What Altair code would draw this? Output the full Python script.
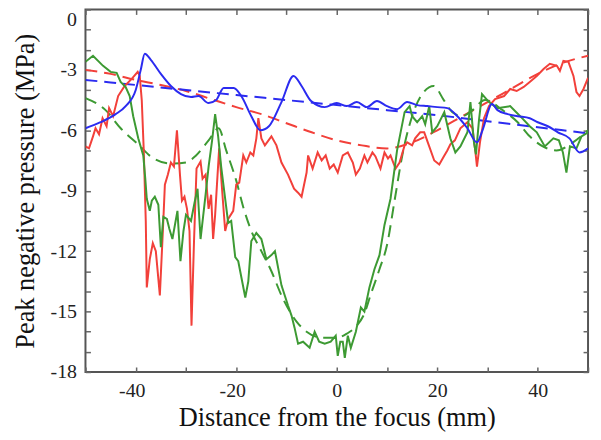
import altair as alt
import pandas as pd

# ---------------- data ----------------
red_x = [-50.0, -49.3, -48.5, -48.0, -47.3, -46.6, -45.8, -45.3, -44.5, -43.5, -42.2, -40.8, -39.6, -39.2,
         -38.8, -38.4, -38.0, -37.8, -37.2, -36.6, -36.0, -35.2, -34.6, -34.2, -33.6, -33.0, -32.4, -31.8,
         -31.2, -30.8, -30.3, -29.8, -29.3, -28.9, -28.4, -27.9, -27.1, -26.7, -26.1, -25.5, -25.0, -24.6,
         -24.2, -23.4, -22.8, -22.2, -21.6, -20.6, -20.0, -19.4, -18.6, -18.0, -17.2, -16.6, -16.0, -15.6,
         -15.0, -14.3, -13.0, -12.0, -11.0, -9.7, -8.5, -7.7, -7.0, -6.0, -5.7, -4.8, -3.8, -3.0, -2.2,
         -1.4, -0.6, 0.2, 1.2, 2.2, 3.2, 3.8, 4.6, 5.5, 6.1, 7.1, 7.7, 8.7, 9.5, 10.2, 10.7, 11.7, 12.5,
         13.5, 14.0, 15.0, 15.6, 16.6, 17.4, 18.4, 19.4, 20.4, 21.3, 22.0, 22.6, 23.5, 24.6, 26.0, 27.0,
         27.6, 27.9, 28.5, 29.3, 30.3, 31.5, 33.3, 34.5, 35.8, 37.2, 38.4, 39.8, 41.2, 42.4, 43.8, 44.4,
         45.1, 46.1, 47.1, 47.7, 48.3, 49.1, 50.0]
red_y = [-6.8, -6.9, -6.3, -5.9, -6.2, -5.4, -5.8, -4.9, -5.3, -4.3, -3.8, -3.45, -3.1, -3.3,
         -4.5, -7.0, -10.5, -13.8, -12.4, -11.6, -12.0, -14.2, -11.0, -8.7, -8.2, -7.6, -7.8, -6.0,
         -8.2, -9.5, -9.3, -9.9, -11.0, -15.7, -11.5, -7.9, -7.55, -8.4, -8.2, -9.9, -9.2, -11.4,
         -10.2, -6.9, -9.0, -11.0, -10.4, -10.0, -8.7, -8.6, -7.25, -7.6, -7.1, -7.25, -6.4, -5.4,
         -6.4, -6.75, -6.3, -6.75, -7.6, -8.2, -8.9, -9.1, -9.3, -8.1, -7.25, -7.9, -7.1, -7.5, -7.25,
         -7.9, -7.7, -8.1, -7.25, -7.1, -7.6, -8.2, -7.9, -7.25, -7.6, -7.1, -7.3, -7.9, -7.1, -7.4,
         -7.25, -7.9, -7.6, -6.75, -6.6, -6.75, -6.4, -6.1, -6.1, -6.8, -7.5, -7.7, -7.3, -7.0, -6.7,
         -6.5, -5.9, -5.6, -5.9, -7.1, -7.8, -6.6, -5.4, -4.8, -4.45, -4.3, -3.95, -4.05, -3.85, -3.6,
         -3.3, -2.95, -2.7, -2.8, -3.05, -2.55, -2.6, -3.3, -4.1, -4.3, -3.95, -3.4]

red_fit_x = [-50, -45, -40, -35, -30, -25, -20, -15, -10, -5, 0, 5, 10, 15, 20, 25, 30, 35, 40, 45, 50]
red_fit_y = [-3.0, -3.2, -3.5, -3.75, -4.05, -4.45, -4.85, -5.2, -5.65, -6.1, -6.5, -6.75, -6.9, -6.6,
             -6.0, -5.3, -4.6, -3.9, -3.2, -2.65, -2.3]

green_x = [-50.0, -48.5, -46.5, -45.0, -43.8, -43.0, -42.0, -41.2, -40.5, -39.5, -38.5, -38.1, -37.8,
           -37.2, -36.8, -36.2, -35.5, -35.0, -34.5, -33.8, -33.3, -32.7, -31.7, -31.1, -30.5, -30.0,
           -29.0, -28.3, -27.7, -27.1, -26.1, -25.5, -24.8, -24.2, -23.6, -23.0, -22.2, -21.6, -21.0,
           -20.2, -19.6, -18.2, -17.6, -17.0, -16.0, -15.0, -14.0, -13.0, -12.3, -11.0, -9.7, -9.0, -8.4,
           -7.7, -6.7, -5.4, -4.4, -3.5, -2.4, -1.2, -0.2, 0.2, 0.7, 1.2, 1.6, 2.2, 2.8, 3.8, 4.8, 5.5,
           6.5, 7.5, 8.5, 9.5, 10.7, 12.0, 13.5, 14.5, 15.0, 16.0, 17.0, 17.6, 18.4, 19.0, 20.0, 21.4,
           22.6, 23.6, 24.6, 26.0, 26.6, 27.3, 27.7, 28.3, 28.9, 30.3, 31.9, 34.5, 36.5, 38.4, 39.8, 41.4,
           43.1, 44.2, 45.0, 45.7, 46.4, 47.7, 48.7, 50.0]
green_y = [-2.6, -2.3, -2.8, -3.1, -3.15, -3.6, -3.85, -4.3, -5.3, -6.4, -7.25, -8.4, -9.4,
           -10.0, -9.5, -9.3, -9.7, -11.8, -10.3, -10.4, -10.9, -11.4, -10.0, -12.5, -11.0, -10.2,
           -10.5, -9.6, -8.9, -11.4, -9.2, -7.8, -6.5, -5.2, -6.3, -7.8, -9.4, -10.6, -10.5,
           -12.3, -12.5, -14.3, -13.5, -11.5, -11.1, -11.4, -12.4, -12.2, -12.0, -13.7, -14.7, -15.2, -15.8,
           -16.6, -16.5, -16.8, -16.0, -16.5, -16.6, -16.5, -16.2, -17.2, -16.5, -16.5, -17.3, -16.2, -16.8,
           -16.0, -14.8, -15.0, -13.8, -12.9, -12.2, -10.7, -9.4, -7.0, -5.1, -4.8, -5.3, -5.6, -5.3,
           -5.7, -4.8, -6.1, -5.8, -5.1, -6.4, -7.1, -6.8, -6.1, -4.6, -6.6, -7.2, -5.5, -4.2, -4.6,
           -4.9, -4.8, -5.3, -5.8, -6.1, -6.8, -6.4, -6.5, -7.1, -8.1, -6.8, -6.9, -6.3, -6.1]

green_fit_x = [-50, -46, -43, -39.5, -37, -33, -30, -28, -25.5, -23.5, -22, -20, -18.5, -17, -15, -13,
               -11, -8, -6, -3, 0, 2, 4, 5.5, 6.7, 8.5, 10, 11.5, 13, 15, 17, 19.3, 21.3, 23, 25, 27,
               29.5, 33, 36, 38.4, 41, 43.7, 47, 50]
green_fit_y = [-4.4, -5.0, -5.9, -6.7, -7.3, -7.65, -7.6, -7.25, -6.5, -5.9, -7.0, -8.5, -9.9, -11.0,
               -12.0, -13.0, -14.2, -15.5, -16.0, -16.3, -16.3, -16.1, -15.7, -15.1, -14.2, -12.9, -11.7,
               -9.5, -7.3, -5.3, -4.2, -3.8, -4.5, -5.1, -5.3, -5.0, -4.5, -5.0, -5.6, -6.3, -6.8, -7.0,
               -6.6, -6.0]

blue_x = [-50, -47, -44, -42, -40, -39, -38.2, -37, -35, -33, -31, -29, -27.5, -25.5, -24, -22.5,
          -20.5, -19, -17, -15.2, -13.5, -11, -8.6, -7, -5.1, -2.4, 0, 2, 4, 6, 8, 10, 12, 14, 16,
          18, 20, 22, 24, 26, 27.9, 29, 30.9, 32, 34, 36, 38.4, 40, 42, 44, 46.3, 48.3, 50]
blue_y = [-5.9, -5.6, -5.2, -4.8, -4.0, -3.0, -2.2, -2.5, -3.2, -3.8, -4.2, -4.35, -4.3, -4.65, -4.5,
          -3.9, -3.9, -4.3, -5.3, -6.0, -5.8, -4.6, -3.3, -3.8, -4.55, -4.85, -4.65, -4.8, -4.6, -4.85,
          -4.55, -4.8, -4.95, -4.6, -4.75, -4.8, -4.85, -4.9, -5.3, -5.9, -6.6, -6.0, -4.7, -5.0, -5.2,
          -5.3, -5.4, -5.6, -5.8, -6.1, -6.4, -7.1, -6.9]

blue_fit_x = [-50, -40, -30, -20, -10, 0, 10, 20, 30, 40, 50]
blue_fit_y = [-3.5, -3.75, -4.0, -4.25, -4.5, -4.75, -5.0, -5.25, -5.55, -5.85, -6.15]

x_ticks = [-50, -40, -30, -20, -10, 0, 10, 20, 30, 40, 50]
y_ticks = list(range(-18, 1))

# ---------------- table ----------------
series = [
    ("red_fit", red_fit_x, red_fit_y),
    ("green_fit", green_fit_x, green_fit_y),
    ("blue_fit", blue_fit_x, blue_fit_y),
    ("red", red_x, red_y),
    ("green", green_x, green_y),
    ("blue", blue_x, blue_y),
]
rows = []
for name, xs, ys in series:
    for i, (xv, yv) in enumerate(zip(xs, ys)):
        rows.append({"x": xv, "y": yv, "s": name, "i": i})
df = pd.DataFrame(rows)

RED = "#f2403a"
GREEN = "#3d9a33"
BLUE = "#2b2bf0"
style = {
    "red_fit": (RED, True, "monotone"),
    "green_fit": (GREEN, True, "monotone"),
    "blue_fit": (BLUE, True, "monotone"),
    "red": (RED, False, "linear"),
    "green": (GREEN, False, "linear"),
    "blue": (BLUE, False, "monotone"),
}

FONT = "Liberation Serif"
AX = "#666666"
xscale = alt.Scale(domain=[-50, 50], nice=False, zero=False)
yscale = alt.Scale(domain=[-18, 0], nice=False, zero=False)

x_axis = alt.Axis(
    values=x_ticks, labelExpr="datum.value % 20 === 0 ? toString(datum.value) : ''",
    offset=-5, tickSize=5, tickColor=AX, tickWidth=1.5, domain=False, grid=False,
    labelPadding=9, labelFont=FONT, labelFontSize=20, labelColor="#222", labelOverlap=False,
    labelOffset={"condition": {"test": "datum.value < 0", "value": -4}, "value": 0},
    title="Distance from the focus (mm)", titleFont=FONT, titleFontSize=26.5,
    titleFontWeight="normal", titleColor="#111", titlePadding=4,
)
y_axis = alt.Axis(
    values=y_ticks, labelExpr="datum.value % 3 === 0 ? toString(datum.value) : ''",
    offset=-5, tickSize=5, tickColor=AX, tickWidth=1.5, domain=False, grid=False,
    labelPadding=9, labelFont=FONT, labelFontSize=20, labelColor="#222", labelOverlap=False,
    labelOffset={"condition": {"test": "datum.value === 0", "value": 10}, "value": 0},
    title="Peak negative pressure (MPa)", titleFont=FONT, titleFontSize=26.5,
    titleFontWeight="normal", titleColor="#111", titlePadding=11,
)

base = alt.Chart(df).encode(
    x=alt.X("x:Q", scale=xscale, axis=x_axis),
    y=alt.Y("y:Q", scale=yscale, axis=y_axis),
    order=alt.Order("i:Q"),
)
layers = []
for name, _, _ in series:
    color, dashed, interp = style[name]
    kw = dict(color=color, strokeWidth=2, interpolate=interp, clip=True)
    if dashed:
        kw["strokeDash"] = [12, 7]
    layers.append(base.transform_filter(alt.datum.s == name).mark_line(**kw))
inner = alt.layer(*layers)

frame = alt.Chart(df).mark_line(opacity=0).encode(
    x=alt.X("x:Q", scale=xscale, axis=alt.Axis(orient="top", values=x_ticks, labels=False, title=None,
                                                 offset=-5, tickSize=5, tickColor=AX, tickWidth=1.5,
                                                 domain=False, grid=False)),
    y=alt.Y("y:Q", scale=yscale, axis=alt.Axis(orient="right", values=y_ticks, labels=False, title=None,
                                                 offset=-5, tickSize=5, tickColor=AX, tickWidth=1.5,
                                                 domain=False, grid=False)),
)

chart = alt.layer(inner, frame).resolve_scale(x="independent", y="independent").properties(
    width=506, height=365,
    padding={"left": 78, "top": 0, "right": 5, "bottom": 59},
    autosize=alt.AutoSizeParams(type="none"),
    background="white",
).configure_view(stroke="#555555", strokeWidth=2)

chart.save("out.html", embed_options={"renderer": "svg", "actions": False})
